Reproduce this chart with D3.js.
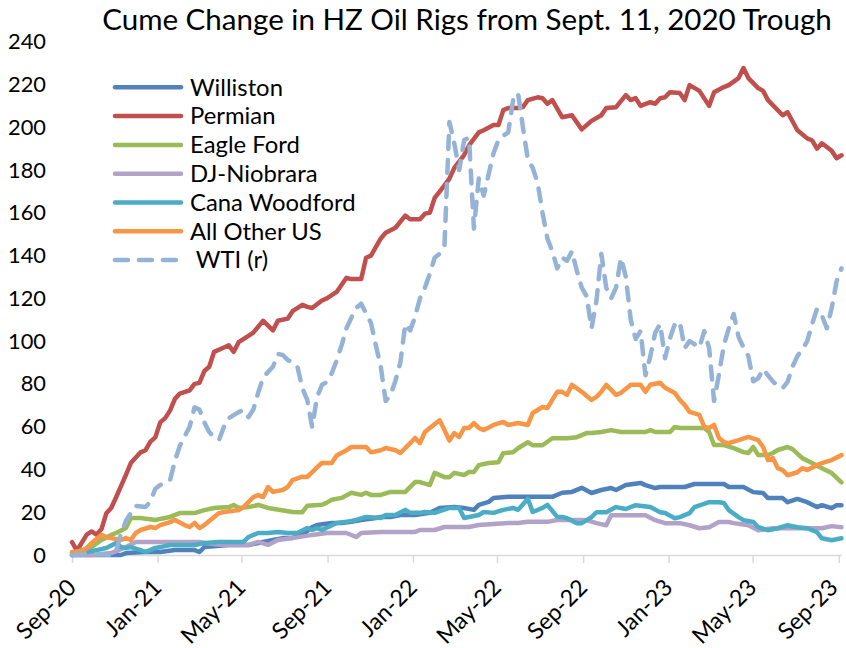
<!DOCTYPE html>
<html><head><meta charset="utf-8">
<script src="https://cdn.jsdelivr.net/npm/d3@7"></script>
<style>body{margin:0;background:#fff} svg{display:block}</style>
</head><body>
<svg id="chart" width="846" height="648"></svg>
<script>
// ---- data: [week offset from Sept. 11, 2020, cumulative change] ----
const title = "Cume Change in HZ Oil Rigs from Sept. 11, 2020 Trough";
const seriesNames = ["Williston","Permian","Eagle Ford","DJ-Niobrara","Cana Woodford","All Other US"," WTI (r)"];
const seriesColors = ["#4F81BD","#C0504D","#9BBB59","#B3A2C7","#4BACC6","#F79646","#95B3D7"];
const yTicks = [0,20,40,60,80,100,120,140,160,180,200,220,240];
const xTickDates = ["2020-09-11","2021-01-11","2021-05-11","2021-09-11","2022-01-11","2022-05-11","2022-09-11","2023-01-11","2023-05-11","2023-09-11"];
const lastWeek = 157;

const williston = [[0,0],[10,0],[11,0.9],[15,1.4],[18,1.4],[21,2.3],[25,2.3],[26,1.4],[27,3.7],[32,4.7],[36,4.7],[38,5.6],[41,7],[43,7.9],[45,8],[47,9.4],[49,13.1],[50,14],[53,15],[55,15],[57,15.5],[59,16.4],[62,17.3],[63,17.8],[65,17.8],[67,18.7],[70,18.7],[73,19.7],[75,22],[78,22.5],[80,22],[82,21.1],[83,23.4],[85,24.8],[86,26.7],[89,27.2],[94,27.2],[98,27.2],[100,29.1],[102,29.5],[104,31.4],[106,29],[108,30.4],[110,31.3],[111,30.4],[113,32.7],[116,33.7],[117,32.7],[119,31.3],[120,31.8],[125,31.8],[127,33.2],[133,33.2],[134,31.8],[137,31.8],[139,29.4],[141,29],[142,26.6],[145,26.6],[146,24.7],[148,26.2],[150,24.7],[152,22.4],[153,23.3],[155,21.9],[156,23.3],[157,23.3]];

const permian = [[0,6],[1,2],[3,9.5],[4,11],[5,9.5],[6,12],[7,19.5],[8,22],[9,27],[11,37.5],[12,43],[14,48],[15,49],[16,53],[17,55],[18,62],[19,64],[20,67.5],[21,73],[22,75.5],[24,77],[25,80],[26,80.5],[27,86],[28,88],[29,95],[31,97],[32,98],[33,95],[34,99.5],[36,102.5],[37,104],[39,109.5],[41,105],[42,109.5],[44,110.5],[45,114],[47,117],[48,116],[49,115.5],[51,119],[52,120],[54,123],[56,129.6],[57,129],[59,129],[60,139],[61,140],[63,148],[64,150.7],[66,153],[68,158.7],[69,157],[71,157],[72,159.6],[73,160],[74,167],[76,172.8],[77,176],[78,181],[80,187],[81,191.5],[83,197.6],[84,198.6],[86,201],[87,201],[88,208],[89,209],[91,209],[92,209.4],[93,212.7],[95,214],[96,213.6],[97,211],[98,212.7],[100,204.7],[102,205.6],[104,199],[106,203],[108,205.6],[109,209],[111,209.4],[113,215],[114,212.7],[115,213.6],[116,210],[118,211.7],[119,211],[120,213.6],[121,214],[122,216.4],[124,216],[125,212.7],[126,219.7],[128,217],[130,210],[131,216.4],[133,218.8],[134,219.7],[136,223],[137,227.7],[138,223],[140,218.3],[141,217],[142,212.7],[145,205.6],[146,207],[148,198.6],[150,194.8],[151,193.9],[152,190],[153,192.5],[155,189],[156,185.5],[157,186.9]];

const eagleFord = [[0,1],[2,2.3],[4,3.7],[6,7],[8,9.4],[9,10.3],[11,12.6],[12,17.3],[14,17.3],[17,16.4],[20,17.8],[22,19.6],[25,19.6],[27,21],[29,22],[32,22.4],[33,23.4],[34,22],[36,22.4],[38,23.4],[40,22],[45,20.1],[47,20],[48,23],[51,23.5],[52,24.5],[53,25.8],[55,26.7],[57,29.1],[59,28.1],[60,29.1],[61,28.1],[63,28.1],[65,29.5],[68,29.5],[70,34.1],[71,34.1],[73,32.7],[74,38.4],[76,36.4],[77,36.4],[78,38.4],[80,37.4],[81,38.8],[82,38.8],[83,42],[85,43],[87,43.4],[88,47.6],[90,48],[91,49.9],[92,51.3],[93,52.7],[94,51.3],[96,51.3],[98,54.6],[101,54.6],[103,55.1],[105,57],[106,57],[108,57.5],[110,58.4],[112,57.5],[117,57.5],[118,58.4],[119,57.5],[122,57.5],[123,59.9],[124,59.4],[129,59.4],[130,57.5],[131,51.4],[133,51.4],[135,50],[137,48.1],[138,47.7],[139,50.5],[140,46.7],[142,46.7],[143,47.7],[144,49.1],[146,50.5],[147,49.5],[149,45.3],[151,43],[153,40.6],[155,38.3],[157,34]];

const djNiobrara = [[0,0],[4,0],[8,0.9],[11,3.7],[13,6.1],[18,6.1],[26,6.1],[27,5.6],[31,4.7],[36,4.7],[38,6.1],[40,4.7],[42,7],[45,7.9],[49,9.4],[52,10.3],[56,10.3],[58,8.4],[59,10.3],[63,10.8],[70,10.8],[71,11.7],[74,11.7],[76,13.1],[81,13.1],[83,14],[89,15],[91,15],[93,15.5],[97,15.5],[99,16.4],[104,16.4],[105,16.3],[107,14.9],[109,13.9],[110,18.6],[117,18.6],[119,16.3],[121,14.9],[124,14.9],[126,13.9],[128,12.5],[130,13],[132,15.4],[134,15.4],[135,14.9],[138,13.9],[140,11.6],[143,12.5],[147,12.5],[153,12.5],[155,13.5],[157,13]];

const canaWoodford = [[0,0],[5,2.3],[7,3.3],[9,5.6],[10,3.7],[11,3.3],[12,3.7],[14,2.3],[15,1.4],[17,3.3],[18,3.7],[20,4.7],[25,4.7],[27,5.6],[30,6.1],[35,6.1],[36,8.4],[38,10.3],[40,10.3],[42,10.8],[44,10.3],[46,10.3],[48,12.6],[49,11.7],[50,12.6],[51,11.7],[54,15],[56,15.5],[58,16.4],[60,17.8],[63,17.3],[64,18.7],[66,18.7],[68,21.1],[69,19.7],[71,19.7],[72,20.1],[74,19.7],[77,22],[79,22],[80,17.3],[83,18.7],[84,20.1],[86,19.7],[88,21.1],[90,22],[91,21.1],[93,26.3],[94,20.1],[96,22],[97,23.4],[99,17.8],[100,17.8],[101,17.2],[103,14.9],[104,14.9],[106,17.7],[107,20],[109,20],[111,22.4],[113,21.5],[115,23.3],[118,22.4],[120,20],[121,19.6],[123,17.2],[124,17.7],[126,19.6],[127,22.4],[130,24.7],[132,24.7],[133,24.3],[134,21],[136,17.7],[137,16.3],[139,15.4],[140,13],[142,11.6],[144,12.5],[146,13.9],[148,13],[150,12.5],[152,10.7],[153,7.8],[155,6.9],[157,7.8]];

const allOtherUS = [[0,1.4],[2,1.4],[3,3.3],[4,5.6],[6,9.4],[7,8.4],[8,7.9],[10,7],[11,7.9],[12,7],[13,10.3],[14,11.7],[16,13.1],[17,12.6],[18,14],[20,15.4],[21,16.4],[23,14],[24,13.1],[25,15],[26,12.6],[27,14],[29,17.8],[30,19.6],[31,20.1],[34,21],[35,22.4],[37,27.1],[38,28],[39,27.1],[40,31.8],[41,29.5],[43,30.4],[44,31.8],[45,35],[47,36.6],[48,36.5],[50,41],[51,43],[53,43],[54,46.5],[56,49],[57,50.5],[60,50.5],[61,48],[63,49],[64,50],[66,49],[67,47.7],[69,52.3],[70,54.7],[71,52.3],[72,57.5],[73,59.4],[75,63],[76,58.4],[77,53.5],[78,57],[79,55.2],[80,59.4],[81,59.4],[82,61.7],[83,59.4],[84,58.4],[86,60.8],[88,62.2],[89,60.8],[91,61.7],[93,60.8],[94,66.4],[95,67.8],[96,69.2],[97,68.7],[98,72.5],[99,76.3],[100,76.3],[101,74.9],[102,79.6],[104,76.3],[106,72.5],[107,73.9],[108,76.3],[109,79.6],[111,74.9],[112,75.8],[114,79.6],[116,79.6],[117,76.3],[118,79.6],[120,80.5],[121,78.2],[123,75.8],[124,72.5],[125,70.2],[126,66.9],[128,65.5],[129,59.9],[130,59.4],[131,60.8],[132,54.7],[133,52.8],[134,52.3],[136,53.7],[138,55.2],[140,53.7],[141,50.5],[142,44.4],[143,45.3],[144,40.6],[145,39.7],[146,37.3],[148,38.7],[149,40.6],[150,39.7],[152,42],[153,43],[155,44.4],[157,46.7]];

const wti = [[0,0],[4,0.5],[8,0],[9,2],[10,10],[11,16],[12,19.6],[13,23],[15,22.4],[16,25],[17,31],[18,32.7],[20,35],[21,44],[22,51],[24,60],[25,69],[26,68],[27,62],[28,57.5],[29,55],[30,53.8],[31,60],[32,64],[33,65.4],[34,66.8],[35,67.8],[36,64.5],[37,68],[38,76],[39,83],[40,85.6],[41,88],[42,94],[43,93.5],[44,91.2],[45,90],[46,88],[47,78],[48,72.5],[49,59.8],[50,73.9],[51,79.5],[52,81],[53,85],[54,91],[55,98],[56,106],[57,111],[58,115.5],[59,117.5],[60,113],[61,108.5],[62,98],[63,88],[64,72],[65,75],[66,81.5],[67,90],[68,108],[69,105],[70,111.5],[71,120],[72,125],[73,131.5],[74,139],[75,140.8],[76,145],[77,202.4],[78,192.5],[79,180],[80,194],[81,195],[82,152.6],[83,176],[84,168],[85,178],[86,187.8],[87,194],[88,196],[89,197.6],[90,212.7],[91,216],[92,200],[93,185],[94,181],[95,174],[96,160],[97,148],[98,142],[99,134],[100,139],[101,137.6],[102,142],[103,132.9],[104,125],[105,121],[106,106],[107,118.8],[108,140.8],[109,125],[110,120],[111,125],[112,139],[113,130],[114,110],[115,101],[116,104.7],[117,84],[118,93],[119,104],[120,108],[121,92],[122,101.4],[123,108],[124,109],[125,96.7],[126,100],[127,98.6],[128,97],[129,104.7],[130,96.7],[131,72],[132,84.5],[133,98],[134,106],[135,112.7],[136,102],[137,97],[138,93],[139,81.2],[140,82.6],[141,86.9],[142,84],[143,81.2],[144,79],[145,78],[146,81],[147,88],[148,93],[149,96],[150,100],[151,108],[152,115],[153,112],[154,106],[155,115.5],[156,128],[157,134]];

const seriesData = [williston, permian, eagleFord, djNiobrara, canaWoodford, allOtherUS, wti];

// ---- drawing ----
const svg = d3.select("#chart");
const FONT = "Lato, 'Open Sans', sans-serif";
const parse = d3.timeParse("%Y-%m-%d");
const start = parse("2020-09-11");
const toDate = w => d3.timeDay.offset(start, w * 7);

const x = d3.scaleTime().domain([start, toDate(lastWeek)]).range([72, 841.5]);
const y = d3.scaleLinear().domain([0, 240]).range([555, 41.7]);

svg.append("rect").attr("width", 846).attr("height", 648).attr("fill", "#fff");

function fitWidth(sel, target) {
  const w = sel.node().getComputedTextLength();
  const fs = parseFloat(sel.attr("font-size"));
  return fs * target / w;
}

// title
const t = svg.append("text").attr("x", 467).attr("y", 30).attr("text-anchor", "middle")
  .attr("font-family", FONT).attr("font-size", 30).attr("fill", "#000").text(title);
t.attr("font-size", fitWidth(t, 730));

// y axis (labels only)
const yAxis = svg.append("g").attr("transform", "translate(72,0)")
  .call(d3.axisLeft(y).tickValues(yTicks).tickSize(0).tickPadding(26));
yAxis.select(".domain").remove();
yAxis.selectAll("text").attr("font-family", FONT).attr("font-size", 22).attr("fill", "#000");
const probe = yAxis.selectAll("text").filter(d => d === 240);
const tickFs = fitWidth(probe, 38);
yAxis.selectAll("text").attr("font-size", tickFs);

// x axis
const xAxis = svg.append("g").attr("transform", "translate(0,555)")
  .call(d3.axisBottom(x).tickValues(xTickDates.map(parse)).tickSize(8).tickSizeOuter(0)
    .tickFormat(d3.timeFormat("%b-%y")));
xAxis.select(".domain").attr("stroke", "#D9D9D9").attr("stroke-width", 1.5);
xAxis.selectAll(".tick line").attr("stroke", "#D9D9D9").attr("stroke-width", 1.5);
xAxis.selectAll(".tick text")
  .attr("font-family", FONT).attr("font-size", tickFs * 1.06).attr("fill", "#000")
  .attr("text-anchor", "end").attr("dy", 0).attr("y", 0)
  .attr("transform", (d, i, n) => `translate(${i === n.length - 1 ? 0 : 5},34) rotate(-45)`);

// lines
const line = d3.line().x(d => x(toDate(d[0]))).y(d => y(d[1]));
seriesData.forEach((data, i) => {
  const p = svg.append("path").datum(data).attr("d", line)
    .attr("fill", "none").attr("stroke", seriesColors[i]).attr("stroke-width", 4.5)
    .attr("stroke-linejoin", "round").attr("stroke-linecap", "round");
  if (i === 6) p.attr("stroke-dasharray", "13,11");
});

// legend
const legend = svg.append("g");
const rowY = d => 87.3 + d * 28.8;
seriesNames.forEach((name, i) => {
  const l = legend.append("line").attr("x1", 115).attr("x2", 181).attr("y1", rowY(i)).attr("y2", rowY(i))
    .attr("stroke", seriesColors[i]).attr("stroke-width", 4.5).attr("stroke-linecap", "round");
  if (i === 6) l.attr("stroke-dasharray", "13,11").attr("x2", 177);
  legend.append("text").attr("x", 190).attr("y", rowY(i)).attr("dy", "0.35em")
    .attr("font-family", FONT).attr("font-size", 24).attr("fill", "#000")
    .style("white-space", "pre").text(name);
});
const firstLabel = legend.select("text");
const legFs = fitWidth(firstLabel, 93);
legend.selectAll("text").attr("font-size", legFs);
</script>
</body></html>
